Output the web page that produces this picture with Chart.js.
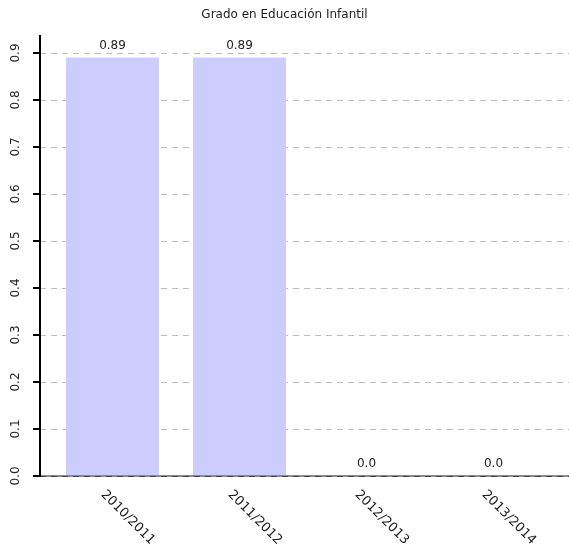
<!DOCTYPE html>
<html>
<head>
<meta charset="utf-8">
<script src="https://cdn.jsdelivr.net/npm/chart.js@4"></script>
<style>
html,body{margin:0;padding:0;background:#fff;}
canvas{display:block;}
</style>
</head>
<body>
<canvas id="c" width="569" height="549"></canvas>
<script>
const title = 'Grado en Educación Infantil';
const categories = ['2010/2011', '2011/2012', '2012/2013', '2013/2014'];
const values = [0.89, 0.89, 0.0, 0.0];
const valueLabels = ['0.89', '0.89', '0.0', '0.0'];
const yTickValues = [0, 0.1, 0.2, 0.3, 0.4, 0.5, 0.6, 0.7, 0.8, 0.9];
const yTickLabels = ['0.0', '0.1', '0.2', '0.3', '0.4', '0.5', '0.6', '0.7', '0.8', '0.9'];

const FONT = '12px "DejaVu Sans", Verdana, sans-serif';
const XFONT = '13px "DejaVu Sans", Verdana, sans-serif';
const AXIS_X = 40;

const decor = {
  id: 'decor',
  beforeDatasetsDraw(chart) {
    const ctx = chart.ctx, y = chart.scales.y;
    ctx.save();
    ctx.setLineDash([6, 5]);
    ctx.strokeStyle = '#bdbdbd';
    ctx.lineWidth = 1;
    yTickValues.forEach(v => {
      if (v === 0) return;
      const py = Math.round(y.getPixelForValue(v)) + 0.5;
      ctx.beginPath(); ctx.moveTo(AXIS_X, py); ctx.lineTo(chart.width, py); ctx.stroke();
    });
    ctx.restore();
  },
  afterDatasetsDraw(chart) {
    const ctx = chart.ctx, y = chart.scales.y, x = chart.scales.x, area = chart.chartArea;
    ctx.save();
    const py0 = Math.round(y.getPixelForValue(0));
    ctx.fillStyle = '#8a8a8a';
    ctx.fillRect(AXIS_X, py0 - 1, chart.width - AXIS_X, 2);
    ctx.setLineDash([6, 5]);
    ctx.strokeStyle = '#444';
    ctx.lineWidth = 1;
    ctx.beginPath(); ctx.moveTo(AXIS_X, py0 + 0.5); ctx.lineTo(chart.width, py0 + 0.5); ctx.stroke();
    ctx.setLineDash([]);
    ctx.fillStyle = '#000';
    ctx.fillRect(AXIS_X - 1, area.top, 2, py0 - area.top + 1);
    ctx.font = FONT;
    ctx.textAlign = 'center';
    ctx.textBaseline = 'middle';
    yTickValues.forEach((v, i) => {
      const py = Math.round(y.getPixelForValue(v));
      ctx.fillStyle = '#000';
      ctx.fillRect(AXIS_X - 7, py - 1, 7, 2);
      ctx.save();
      ctx.translate(16, py);
      ctx.rotate(-Math.PI / 2);
      ctx.fillStyle = '#222';
      ctx.fillText(yTickLabels[i], 0, 0);
      ctx.restore();
    });
    ctx.fillStyle = '#222';
    ctx.textAlign = 'center';
    ctx.textBaseline = 'alphabetic';
    values.forEach((v, i) => {
      const px = x.getPixelForValue(i);
      const py = y.getPixelForValue(v);
      ctx.fillText(valueLabels[i], px, py - 9);
    });
    ctx.font = XFONT;
    ctx.textAlign = 'left';
    ctx.textBaseline = 'top';
    categories.forEach((c, i) => {
      const px = x.getPixelForValue(i);
      ctx.save();
      ctx.translate(px - 5, 488);
      ctx.rotate(Math.PI / 4);
      ctx.fillText(c, 0, 0);
      ctx.restore();
    });
    ctx.font = FONT;
    ctx.textAlign = 'center';
    ctx.textBaseline = 'middle';
    ctx.fillStyle = '#222';
    ctx.fillText(title, chart.width / 2, 15);
    ctx.restore();
  }
};

new Chart(document.getElementById('c'), {
  type: 'bar',
  data: {
    labels: categories,
    datasets: [{
      data: values,
      backgroundColor: '#ccccff',
      borderWidth: 0,
      categoryPercentage: 1,
      barPercentage: 0.732
    }]
  },
  options: {
    responsive: false,
    animation: false,
    layout: { padding: { left: 49, right: 12, top: 35, bottom: 73 } },
    plugins: { legend: { display: false }, title: { display: false }, tooltip: { enabled: false } },
    scales: {
      x: { display: false, offset: true },
      y: { display: false, min: 0, max: 0.938 }
    }
  },
  plugins: [decor]
});
</script>
</body>
</html>
